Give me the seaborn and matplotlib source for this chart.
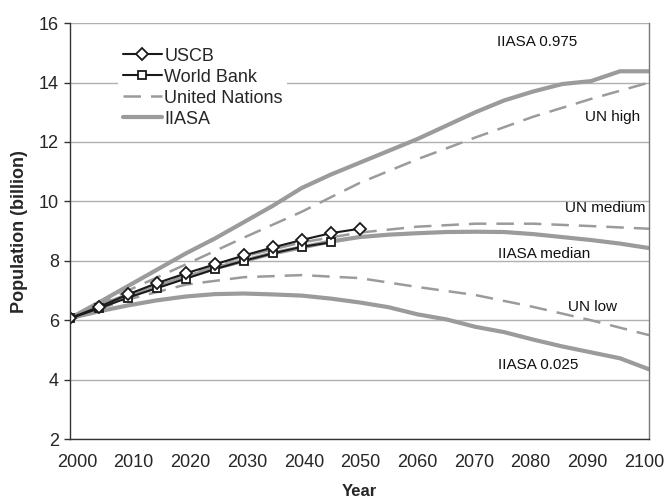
import matplotlib
matplotlib.use("Agg")
import matplotlib.pyplot as plt
from matplotlib.ticker import FixedLocator
from matplotlib.lines import Line2D
from matplotlib.transforms import ScaledTranslation
import seaborn as sns
import pandas as pd

# Census Bureau and World Bank projections (5-year steps)
uscb_years = [2000, 2005, 2010, 2015, 2020, 2025, 2030, 2035, 2040, 2045, 2050]
uscb_pop = [6.07, 6.45, 6.87, 7.25, 7.58, 7.88, 8.18, 8.45, 8.70, 8.93, 9.08]

wb_years = [2000, 2005, 2010, 2015, 2020, 2025, 2030, 2035, 2040, 2045]
wb_pop = [6.06, 6.40, 6.76, 7.08, 7.40, 7.72, 8.00, 8.25, 8.47, 8.62]

# United Nations long-range variants (decades)
un_years = [2000, 2010, 2020, 2030, 2040, 2050, 2060, 2070, 2080, 2090, 2100]
un_high = [6.07, 7.00, 7.88, 8.78, 9.65, 10.62, 11.42, 12.15, 12.85, 13.45, 14.00]
un_medium = [6.07, 6.85, 7.55, 8.15, 8.62, 8.95, 9.15, 9.25, 9.25, 9.17, 9.08]
un_low = [6.07, 6.70, 7.20, 7.45, 7.52, 7.42, 7.12, 6.85, 6.45, 6.00, 5.50]

# IIASA probabilistic projections (5-year steps)
iiasa_years = list(range(2000, 2101, 5))
iiasa_975 = [6.07, 6.60, 7.15, 7.70, 8.25, 8.75, 9.30, 9.85, 10.45, 10.90, 11.30,
             11.70, 12.10, 12.55, 13.00, 13.40, 13.70, 13.95, 14.05, 14.38, 14.38]
iiasa_median = [6.07, 6.48, 6.85, 7.15, 7.45, 7.75, 8.00, 8.25, 8.45, 8.65, 8.80,
                8.88, 8.93, 8.97, 8.98, 8.97, 8.90, 8.80, 8.70, 8.58, 8.43]
iiasa_025 = [6.07, 6.30, 6.50, 6.67, 6.80, 6.88, 6.90, 6.87, 6.83, 6.73, 6.60,
             6.44, 6.20, 6.03, 5.78, 5.60, 5.35, 5.12, 4.92, 4.72, 4.35]

x_labels = [str(y) for y in range(2000, 2101, 10)]

sns.set_style("white")
plt.rcParams["font.family"] = ["Liberation Sans", "DejaVu Sans"]

fig = plt.figure(figsize=(6.67, 5.03), dpi=100)
ax = fig.add_axes([0.105, 0.127, 0.868, 0.827])

grey = "#9b9b9b"
dark = "#1a1a1a"
un_dash = (0, (7, 4))

iiasa = pd.DataFrame({"year": iiasa_years, "hi": iiasa_975,
                      "med": iiasa_median, "lo": iiasa_025})
un = pd.DataFrame({"year": un_years, "hi": un_high, "med": un_medium, "lo": un_low})

for col in ["hi", "med", "lo"]:
    sns.lineplot(data=iiasa, x="year", y=col, ax=ax, color=grey, lw=3.0,
                 legend=False)
for col in ["hi", "med", "lo"]:
    sns.lineplot(data=un, x="year", y=col, ax=ax, color=grey, lw=1.8,
                 legend=False, linestyle=un_dash)

wb = pd.DataFrame({"year": wb_years, "pop": wb_pop})
us = pd.DataFrame({"year": uscb_years, "pop": uscb_pop})
sns.lineplot(data=wb, x="year", y="pop", ax=ax, color=dark, lw=1.5,
             marker="s", markersize=6, markerfacecolor="white",
             markeredgecolor=dark, markeredgewidth=1.3, legend=False)
sns.lineplot(data=us, x="year", y="pop", ax=ax, color=dark, lw=1.5,
             marker="D", markersize=6.5, markerfacecolor="white",
             markeredgecolor=dark, markeredgewidth=1.3, legend=False)

# Axis ranges and ticks
ax.set_xlim(2000, 2100)
ax.set_ylim(2, 16)
ax.set_yticks(range(2, 17, 2))
ax.set_xticks(range(2000, 2101, 10))
ax.set_xticklabels(x_labels)
ax.xaxis.set_minor_locator(FixedLocator([2000, 2050, 2100]))
ax.tick_params(axis="x", which="major", length=0, labelsize=13, pad=11)
ax.tick_params(axis="x", which="minor", length=4, width=1, color="#333333",
               direction="inout")
ax.tick_params(axis="y", which="major", length=4, width=1, color="#333333",
               labelsize=13, left=True, pad=4)

# Year labels sit on an evenly spaced band slightly inside the axis ends
n_lab = len(x_labels)
for i, lab in enumerate(ax.get_xticklabels()):
    shift_px = 7.0 - 12.0 * i / (n_lab - 1)
    lab.set_transform(lab.get_transform() +
                      ScaledTranslation(shift_px / 100, 0, fig.dpi_scale_trans))

ax.grid(axis="y", color="#b0b0b0", lw=1)
ax.grid(axis="x", visible=False)
ax.set_axisbelow(True)

for side in ["left", "bottom"]:
    ax.spines[side].set_color("#333333")
    ax.spines[side].set_linewidth(1.0)
ax.spines["top"].set_visible(False)
ax.spines["right"].set_color("#777777")
ax.spines["right"].set_linewidth(1.0)

ax.set_xlabel("Year", fontsize=12, fontweight="bold", labelpad=9)
ax.set_ylabel("Population (billion)", fontsize=13, fontweight="bold", labelpad=8)

# Legend
handles = [
    Line2D([], [], color=dark, lw=1.5, marker="D", markersize=6.5,
           markerfacecolor="white", markeredgecolor=dark, markeredgewidth=1.3),
    Line2D([], [], color=dark, lw=1.5, marker="s", markersize=6,
           markerfacecolor="white", markeredgecolor=dark, markeredgewidth=1.3),
    Line2D([], [], color=grey, lw=1.8, linestyle=un_dash),
    Line2D([], [], color=grey, lw=3.0),
]
ax.legend(handles, ["USCB", "World Bank", "United Nations", "IIASA"],
          loc="upper left", bbox_to_anchor=(0.083, 0.952), frameon=True,
          facecolor="white", edgecolor="none", framealpha=1,
          fontsize=13, handlelength=2.2, handletextpad=0.1, labelspacing=0.22,
          borderpad=0.25, borderaxespad=0, numpoints=1)

# Curve labels
label_kw = dict(fontsize=11, color="#111111", ha="left", va="center")
ax.text(2073.7, 15.36, "IIASA 0.975", **label_kw)
ax.text(2088.9, 12.84, "UN high", **label_kw)
ax.text(2085.5, 9.77, "UN medium", **label_kw)
ax.text(2073.9, 8.22, "IIASA median", **label_kw)
ax.text(2086.0, 6.44, "UN low", **label_kw)
ax.text(2073.9, 4.49, "IIASA 0.025", **label_kw)

fig.savefig("out.png", dpi=100)
